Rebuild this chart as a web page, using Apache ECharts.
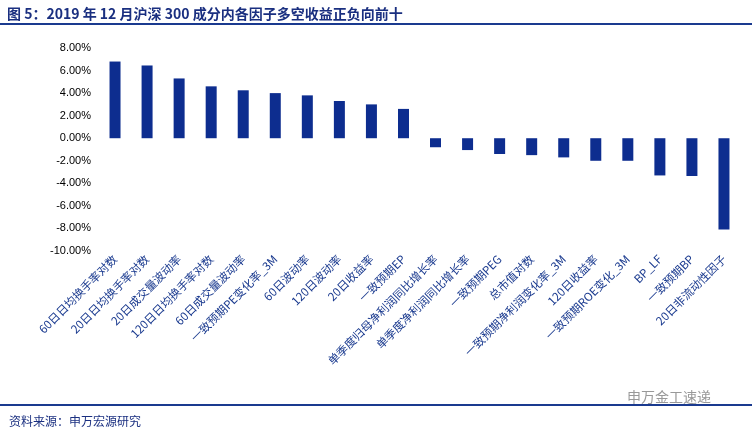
<!DOCTYPE html>
<html><head><meta charset="utf-8">
<script src="https://cdn.jsdelivr.net/npm/echarts@6/dist/echarts.min.js"></script>
<style>body{margin:0;background:#fff}#c{width:752px;height:431px}</style>
</head><body><div id="c"></div>
<script>
const factors = ['60日日均换手率对数','20日日均换手率对数','20日成交量波动率','120日日均换手率对数','60日成交量波动率','一致预期PE变化率_3M','60日波动率','120日波动率','20日收益率','一致预期EP','单季度归母净利润同比增长率','单季度净利润同比增长率','一致预期PEG','总市值对数','一致预期净利润变化率_3M','120日收益率','一致预期ROE变化_3M','BP_LF','一致预期BP','20日非流动性因子'];
const returns = [6.8,6.45,5.3,4.6,4.25,4.0,3.8,3.3,3.0,2.6,-0.8,-1.05,-1.4,-1.5,-1.7,-2.0,-2.0,-3.3,-3.35,-8.1];
const fontCJK = '"Noto Sans CJK SC", sans-serif';
const chart = echarts.init(document.getElementById('c'));
chart.setOption({
  animation: false,
  textStyle: {fontFamily: fontCJK},
  title: [
    {text: '图 5：2019 年 12 月沪深 300 成分内各因子多空收益正负向前十', left: 2, top: 2,
     textStyle: {fontSize: 14, fontWeight: 'bold', color: '#1a2f80', fontFamily: fontCJK}},
    {text: '资料来源：申万宏源研究', left: 4, top: 410,
     textStyle: {fontSize: 12, fontWeight: 'normal', color: '#1a2f80', fontFamily: fontCJK}},
    {text: '申万金工速递', left: 622, top: 385,
     textStyle: {fontSize: 14, fontWeight: 'normal', color: '#999', fontFamily: fontCJK}}
  ],
  graphic: [
    {type: 'rect', shape: {x: 0, y: 23, width: 752, height: 2}, style: {fill: '#1a3a8f'}},
    {type: 'rect', shape: {x: 0, y: 404, width: 752, height: 2}, style: {fill: '#1a3a8f'}}
  ],
  grid: {left: 99, right: 12, top: 48, bottom: 180, outerBoundsMode: 'none', containLabel: false},
  xAxis: {
    type: 'category', data: factors,
    axisLine: {show: false, onZero: false}, axisTick: {show: false},
    axisLabel: {interval: 0, rotate: 45, fontSize: 11.5, color: '#1a3a8f', margin: 6}
  },
  yAxis: {
    type: 'value', min: -10, max: 8, interval: 2,
    splitLine: {show: false}, axisLine: {show: false}, axisTick: {show: false},
    axisLabel: {formatter: v => v.toFixed(2) + '%', fontSize: 11, color: '#000', fontFamily: 'Arial'}
  },
  series: [{type: 'bar', data: returns, barWidth: 11, itemStyle: {color: '#0d2d8f'}}]
});
</script></body></html>
